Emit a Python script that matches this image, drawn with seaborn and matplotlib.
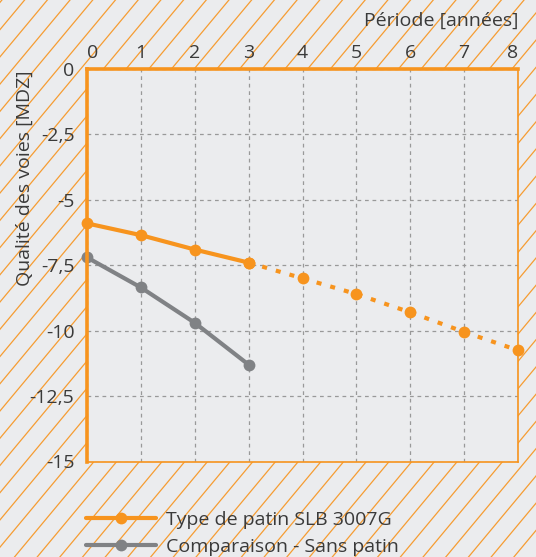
import numpy as np
import matplotlib
matplotlib.use("Agg")
import matplotlib.pyplot as plt
from matplotlib.lines import Line2D
import seaborn as sns
import pandas as pd

# ---- data ----
years = [0, 1, 2, 3, 4, 5, 6, 7, 8]
patin_measured_x = [0, 1, 2, 3]
patin_measured_y = [-5.9, -6.35, -6.9, -7.4]
patin_forecast_x = [3, 4, 5, 6, 7, 8]
patin_forecast_y = [-7.4, -8.0, -8.6, -9.3, -10.05, -10.75]
compare_x = [0, 1, 2, 3]
compare_y = [-7.2, -8.35, -9.7, -11.3]
y_ticks = [0, -2.5, -5, -7.5, -10, -12.5, -15]
y_tick_labels = ["0", "-2,5", "-5", "-7,5", "-10", "-12,5", "-15"]
x_tick_labels = ["0", "1", "2", "3", "4", "5", "6", "7", "8"]
label_patin = "Type de patin SLB 3007G"
label_compare = "Comparaison - Sans patin"
x_title = "Période [années]"
y_title = "Qualité des voies [MDZ]"

ORANGE = "#F7941E"
GRAY = "#808285"
BG = "#EBECEE"
TXT = "#3a3a3a"

sns.set_theme(style="white")
plt.rcParams["font.family"] = ["Open Sans", "DejaVu Sans"]

W, H = 536, 557
fig = plt.figure(figsize=(W / 100, H / 100), dpi=100)
fig.patch.set_facecolor(BG)

# background hatching
bg = fig.add_axes([0, 0, 1, 1], zorder=-5)
bg.set_xlim(0, W)
bg.set_ylim(0, H)
bg.axis("off")
slope = 1.2
spacing = 22.7
x0 = 320 - 67 / slope
for k in range(-40, 40):
    c = x0 + k * spacing
    xs = np.array([c - 50, c + (H + 50) / slope])
    bg.plot(xs, slope * (xs - c), color=ORANGE, lw=0.9, alpha=0.9, solid_capstyle="butt")

# main axes
left, right, top, bottom = 87, 518, 69, 461.5
ax = fig.add_axes([left / W, 1 - bottom / H, (right - left) / W, (bottom - top) / H])
ax.set_facecolor(BG)

df_m = pd.DataFrame({"x": patin_measured_x, "y": patin_measured_y})
df_f = pd.DataFrame({"x": patin_forecast_x, "y": patin_forecast_y})
df_c = pd.DataFrame({"x": compare_x, "y": compare_y})

common = dict(marker="o", markersize=8.5, markeredgewidth=0, linewidth=3, clip_on=False, zorder=5)
sns.lineplot(data=df_c, x="x", y="y", ax=ax, color=GRAY, **common)
sns.lineplot(data=df_f, x="x", y="y", ax=ax, color=ORANGE, linestyle=(0, (1.2, 2.2)),
             dash_capstyle="butt", **common)
sns.lineplot(data=df_m, x="x", y="y", ax=ax, color=ORANGE, **common)

ax.set_xlim(0, 8)
ax.set_ylim(-15, 0)
ax.set_xticks(years)
ax.set_xticklabels(x_tick_labels)
ax.set_yticks(y_ticks)
ax.set_yticklabels(y_tick_labels)
ax.xaxis.tick_top()
ax.tick_params(axis="both", length=0, labelsize=14, labelcolor=TXT)
ax.tick_params(axis="x", pad=5)
ax.tick_params(axis="y", pad=9)
lbls = ax.get_xticklabels()
lbls[0].set_ha("left")
lbls[-1].set_ha("right")
ax.set_xlabel("")
ax.set_ylabel("")
ax.grid(True, color="#999999", linestyle=(0, (3, 3)), linewidth=0.9)

for s in ["top", "left"]:
    ax.spines[s].set_color(ORANGE)
    ax.spines[s].set_linewidth(2.6)
    ax.spines[s].set_zorder(6)
for s in ["right", "bottom"]:
    ax.spines[s].set_color(ORANGE)
    ax.spines[s].set_linewidth(1.2)

fig.text(518 / W, 1 - 21 / H, x_title, ha="right", va="center", fontsize=14, color=TXT)
fig.text(25 / W, 1 - 70 / H, y_title, ha="center", va="top", rotation=90, fontsize=14, color=TXT)

handles = [
    Line2D([], [], color=ORANGE, lw=3, marker="o", markersize=8.5, markeredgewidth=0),
    Line2D([], [], color=GRAY, lw=3, marker="o", markersize=8.5, markeredgewidth=0),
]
fig.legend(handles, [label_patin, label_compare], loc="upper left",
           bbox_to_anchor=(78 / W, 1 - 503 / H), frameon=False, fontsize=14,
           handlelength=3.6, handletextpad=0.5, labelspacing=0.45, borderaxespad=0,
           labelcolor=TXT)

fig.savefig("out.png", dpi=100, facecolor=BG)
